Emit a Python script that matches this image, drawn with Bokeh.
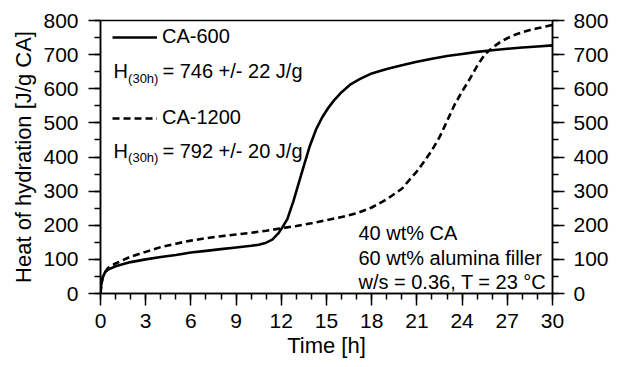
from bokeh.plotting import figure
from bokeh.models import (Range1d, LinearAxis, SingleIntervalTicker, Label,
                          Legend, LegendItem)
from bokeh.embed import file_html
from bokeh.resources import INLINE

FONT = "Liberation Sans"

# CA-600 (solid)
t_600 = [0, 0.05, 0.15, 0.3, 0.5, 1, 2, 3, 4, 5, 6, 7, 8, 9, 10, 10.5, 11, 11.4,
         11.8, 12.1, 12.4, 12.8, 13.2, 13.5, 13.9, 14.3, 14.7, 15.1, 15.5, 16,
         16.6, 17.2, 18, 19, 20, 21, 22, 23, 24, 25, 26, 27, 28, 29, 30]
v_600 = [0, 25, 48, 62, 70, 80, 92, 100, 107, 113, 120, 125, 130, 135, 140, 143,
         149, 158, 176, 196, 218, 270, 330, 375, 433, 480, 515, 543, 566, 590,
         613, 628, 645, 658, 669, 679, 688, 696, 702, 708, 713, 717, 721, 724, 727]

# CA-1200 (dashed)
t_1200 = [0, 0.05, 0.15, 0.3, 0.5, 1, 2, 3, 4, 5, 6, 7, 8, 9, 10, 11, 12, 13, 14,
          15, 16, 17, 18, 19, 20, 21, 21.5, 22, 22.5, 23, 23.5, 24, 24.5, 25,
          25.5, 26, 26.5, 27, 27.5, 28, 28.5, 29, 29.5, 30]
v_1200 = [0, 25, 48, 63, 75, 88, 108, 122, 136, 146, 155, 162, 168, 173, 178, 184,
          191, 198, 206, 215, 224, 235, 252, 276, 307, 358, 388, 420, 458, 505,
          553, 592, 628, 667, 700, 720, 736, 748, 758, 766, 772, 777, 782, 787]

series_labels = ["CA-600", "CA-1200"]
h_values = ["= 746 +/- 22 J/g", "= 792 +/- 20 J/g"]
notes = ["40 wt% CA", "60 wt% alumina filler", "w/s = 0.36, T = 23 °C"]

p = figure(frame_width=452, frame_height=273, output_backend="svg",
           toolbar_location=None, x_range=Range1d(0, 30), y_range=Range1d(0, 800),
           min_border_left=100, min_border_right=69, min_border_top=20,
           min_border_bottom=74)
p.xgrid.visible = False
p.ygrid.visible = False
p.outline_line_color = "black"
p.outline_line_width = 1.5
p.background_fill_color = "white"
p.border_fill_color = "white"

r1 = p.line(t_600, v_600, line_color="black", line_width=2.6)
r2 = p.line(t_1200, v_1200, line_color="black", line_width=2.6, line_dash="7 4")

xa = p.xaxis[0]
la = p.yaxis[0]
xa.ticker = SingleIntervalTicker(interval=3, num_minor_ticks=3)
la.ticker = SingleIntervalTicker(interval=100, num_minor_ticks=2)
ra = LinearAxis(ticker=SingleIntervalTicker(interval=100, num_minor_ticks=2))
p.add_layout(ra, "right")

for ax in [xa, la, ra]:
    ax.axis_line_width = 1.5
    ax.axis_line_color = "black"
    ax.major_tick_line_width = 1.5
    ax.minor_tick_line_width = 1.5
    ax.major_tick_line_color = "black"
    ax.minor_tick_line_color = "black"
    ax.major_tick_in = 0
    ax.major_tick_out = 12
    ax.minor_tick_in = 0
    ax.minor_tick_out = 6
    ax.major_label_text_font = FONT
    ax.major_label_text_font_size = "21px"
    ax.major_label_text_color = "black"
    ax.axis_label_text_font = FONT
    ax.axis_label_text_font_size = "22px"
    ax.axis_label_text_font_style = "normal"
    ax.axis_label_text_color = "black"

xa.major_label_standoff = 8
la.major_label_standoff = 10
ra.major_label_standoff = 9

xa.axis_label = "Time [h]"
xa.axis_label_standoff = 2
la.axis_label = "Heat of hydration [J/g CA]"
la.axis_label_standoff = 4
ra.axis_label = None

legend = Legend(items=[LegendItem(label=series_labels[0], renderers=[r1]),
                       LegendItem(label=series_labels[1], renderers=[r2])],
                location=(6, 158), margin=0, padding=6, spacing=58,
                glyph_width=45, glyph_height=12, label_height=12, label_standoff=5,
                label_text_font=FONT, label_text_font_size="20px",
                label_text_color="black",
                border_line_alpha=0, background_fill_alpha=0)
p.add_layout(legend)

# H(30h) lines
for i, (yb, ys) in enumerate([(651, 630), (419, 399)]):
    p.add_layout(Label(x=0.86, y=yb, text="H", text_font=FONT, text_color="black",
                       text_font_size="20px", text_baseline="alphabetic"))
    p.add_layout(Label(x=1.83, y=ys, text="(30h)", text_font=FONT, text_color="black",
                       text_font_size="13px", text_baseline="alphabetic"))
    p.add_layout(Label(x=4.11, y=yb, text=h_values[i], text_font=FONT,
                       text_color="black", text_font_size="20px",
                       text_baseline="alphabetic"))

for txt, yb in zip(notes, [176, 103, 33]):
    p.add_layout(Label(x=17.12, y=yb, text=txt, text_font=FONT, text_color="black",
                       text_font_size="20px", text_baseline="alphabetic"))

open("out.html", "w").write(file_html(p, INLINE))
